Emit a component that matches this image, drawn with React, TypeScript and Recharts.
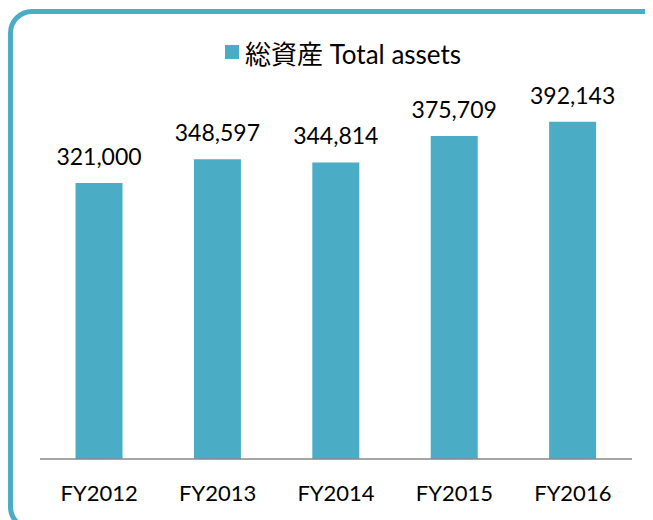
import React from 'react'
import { BarChart, Bar, XAxis, YAxis, LabelList } from 'recharts'

const years = ['FY2012', 'FY2013', 'FY2014', 'FY2015', 'FY2016']
const totalAssets = [321000, 348597, 344814, 375709, 392143]

const BLUE = '#4BACC6'
const FONT = "Lato, 'Noto Sans CJK JP', sans-serif"

const data = years.map((year, i) => ({ year, assets: totalAssets[i] }))

const fmt = (v: number) => v.toLocaleString('en-US')

export default function App() {
  return (
    <div style={{ position: 'relative', width: 645, height: 512, overflow: 'hidden' }}>
      {/* rounded frame, right side runs off the picture */}
      <div
        style={{
          position: 'absolute',
          left: 0,
          top: 1,
          width: 662,
          height: 522,
          border: `5px solid ${BLUE}`,
          borderRadius: 24,
          boxSizing: 'border-box',
        }}
      />
      {/* legend */}
      <div
        style={{
          position: 'absolute',
          left: 217,
          top: 30,
          height: 28,
          display: 'flex',
          alignItems: 'center',
          fontFamily: FONT,
          fontSize: 26,
          color: '#000',
        }}
      >
        <span style={{ display: 'inline-block', width: 14, height: 14, background: BLUE, marginRight: 6 }} />
        <span>総資産 Total assets</span>
      </div>
      <div style={{ position: 'absolute', left: 0, top: 0 }}>
        <BarChart
          width={645}
          height={512}
          data={data}
          margin={{ top: 64, right: 21, bottom: 11, left: 32 }}
          barCategoryGap="30%"
        >
          <XAxis
            dataKey="year"
            axisLine={{ stroke: '#888', strokeWidth: 1.5 }}
            tickLine={false}
            tickMargin={20}
            height={50}
            tick={{ fill: '#000', fontSize: 22, fontFamily: FONT }}
          />
          <YAxis hide domain={[0, 450000]} />
          <Bar dataKey="assets" fill={BLUE} isAnimationActive={false}>
            <LabelList
              dataKey="assets"
              position="top"
              offset={18}
              formatter={fmt}
              style={{ fill: '#000', fontSize: 23, fontFamily: FONT }}
            />
          </Bar>
        </BarChart>
      </div>
    </div>
  )
}
